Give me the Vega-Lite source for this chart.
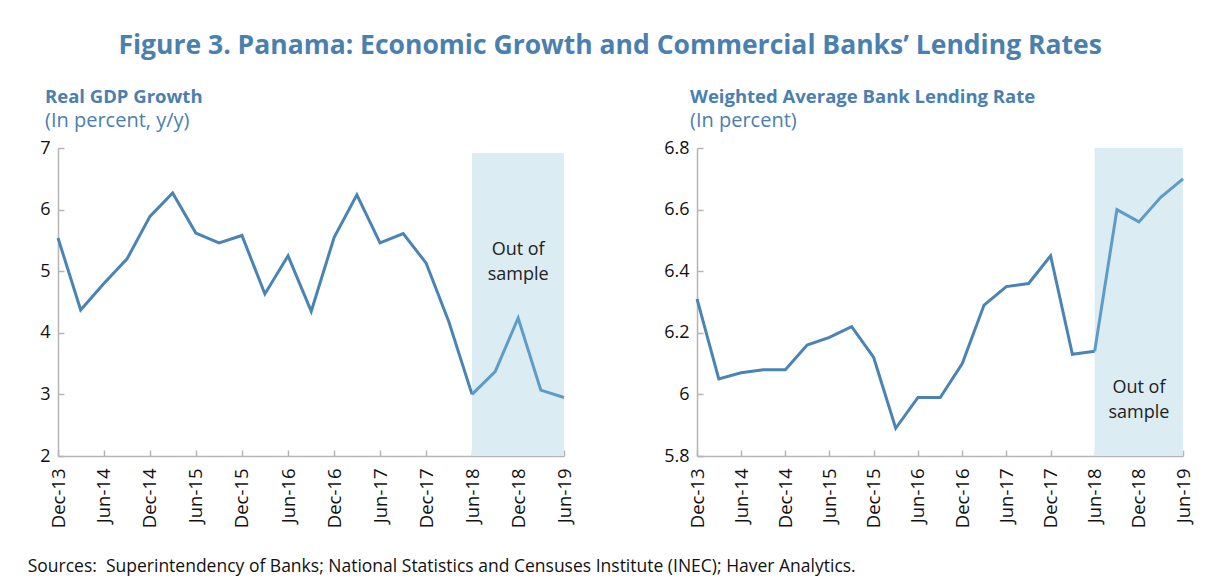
{
  "$schema": "https://vega.github.io/schema/vega-lite/v6.json",
  "background": "white",
  "padding": {"left": 27, "top": 33, "right": 8, "bottom": 4},
  "title": {
    "text": "Figure 3. Panama: Economic Growth and Commercial Banks’ Lending Rates",
    "anchor": "middle",
    "font": "Open Sans",
    "fontSize": 26.5,
    "fontWeight": "bold",
    "color": "#4a80b0",
    "offset": 28
  },
  "config": {
    "font": "Open Sans",
    "view": {"stroke": null},
    "axis": {
      "grid": false,
      "title": null,
      "domainColor": "#b5b5b5",
      "domainWidth": 1.5,
      "tickColor": "#b5b5b5",
      "tickWidth": 1.5,
      "tickSize": -6,
      "labelColor": "#111111",
      "labelFont": "Open Sans"
    }
  },
  "datasets": {
    "series": [
      {"date": "2013-12-15", "gdp": 5.54, "rate": 6.31},
      {"date": "2014-03-15", "gdp": 4.37, "rate": 6.05},
      {"date": "2014-06-15", "gdp": 4.80, "rate": 6.07},
      {"date": "2014-09-15", "gdp": 5.20, "rate": 6.08},
      {"date": "2014-12-15", "gdp": 5.89, "rate": 6.08},
      {"date": "2015-03-15", "gdp": 6.27, "rate": 6.16},
      {"date": "2015-06-15", "gdp": 5.62, "rate": 6.185},
      {"date": "2015-09-15", "gdp": 5.46, "rate": 6.22},
      {"date": "2015-12-15", "gdp": 5.58, "rate": 6.12},
      {"date": "2016-03-15", "gdp": 4.63, "rate": 5.89},
      {"date": "2016-06-15", "gdp": 5.25, "rate": 5.99},
      {"date": "2016-09-15", "gdp": 4.35, "rate": 5.99},
      {"date": "2016-12-15", "gdp": 5.55, "rate": 6.10},
      {"date": "2017-03-15", "gdp": 6.24, "rate": 6.29},
      {"date": "2017-06-15", "gdp": 5.46, "rate": 6.35},
      {"date": "2017-09-15", "gdp": 5.61, "rate": 6.36},
      {"date": "2017-12-15", "gdp": 5.13, "rate": 6.45},
      {"date": "2018-03-15", "gdp": 4.18, "rate": 6.13},
      {"date": "2018-06-15", "gdp": 3.00, "rate": 6.14},
      {"date": "2018-09-15", "gdp": 3.37, "rate": 6.60},
      {"date": "2018-12-15", "gdp": 4.24, "rate": 6.56},
      {"date": "2019-03-15", "gdp": 3.07, "rate": 6.64},
      {"date": "2019-06-15", "gdp": 2.95, "rate": 6.70}
    ],
    "shadeGdp": [{"start": "2018-06-15", "end": "2019-06-15", "lo": 2, "hi": 6.92}],
    "shadeRate": [{"start": "2018-06-15", "end": "2019-06-15", "lo": 5.8, "hi": 6.8}],
    "noteGdp": [{"date": "2018-12-15", "v": 5.35, "label": "Out of\nsample"}],
    "noteRate": [{"date": "2018-12-15", "v": 6.02, "label": "Out of\nsample"}]
  },
  "vconcat": [
    {
      "title": {
        "text": "Sources:\u00a0 Superintendency of Banks; National Statistics and Censuses Institute (INEC); Haver Analytics.",
        "orient": "bottom",
        "anchor": "start",
        "frame": "bounds",
        "dx": -12,
        "font": "Open Sans",
        "fontSize": 17.5,
        "fontWeight": "normal",
        "color": "#111111",
        "offset": 30
      },
      "hconcat": [
        {
          "width": 506,
          "height": 308,
          "title": {
            "text": "Real GDP Growth",
            "subtitle": "(In percent, y/y)",
            "anchor": "start",
            "frame": "group",
            "dx": -13,
            "font": "Open Sans",
            "fontSize": 18.5,
            "fontWeight": "bold",
            "color": "#4a80b0",
            "subtitleFont": "Open Sans",
            "subtitleFontSize": 20,
            "subtitleColor": "#4a80b0",
            "subtitlePadding": 5,
            "offset": 8
          },
          "layer": [
            {
              "data": {"name": "shadeGdp"},
              "mark": {"type": "rect", "color": "#dbecf3"},
              "encoding": {
                "x": {"field": "start", "type": "temporal",
                  "scale": {"domain": [{"year": 2013, "month": 12, "date": 15}, {"year": 2019, "month": 6, "date": 15}]},
                  "axis": {"values": [
                    {"year": 2013, "month": 12, "date": 15}, {"year": 2014, "month": 6, "date": 15},
                    {"year": 2014, "month": 12, "date": 15}, {"year": 2015, "month": 6, "date": 15},
                    {"year": 2015, "month": 12, "date": 15}, {"year": 2016, "month": 6, "date": 15},
                    {"year": 2016, "month": 12, "date": 15}, {"year": 2017, "month": 6, "date": 15},
                    {"year": 2017, "month": 12, "date": 15}, {"year": 2018, "month": 6, "date": 15},
                    {"year": 2018, "month": 12, "date": 15}, {"year": 2019, "month": 6, "date": 15}],
                    "format": "%b-%y", "labelAngle": -90, "labelFontSize": 18.5, "labelPadding": 18, "labelAlign": "right", "labelBaseline": "middle"}},
                "x2": {"field": "end"},
                "y": {"field": "lo", "type": "quantitative",
                  "scale": {"domain": [2, 7], "nice": false, "zero": false},
                  "axis": {"values": [2, 3, 4, 5, 6, 7], "format": "d", "labelFontSize": 18, "labelPadding": 14}},
                "y2": {"field": "hi"}
              }
            },
            {
              "data": {"name": "series"},
              "transform": [{"filter": {"field": "date", "lte": {"year": 2018, "month": 6, "date": 16}}}],
              "mark": {"type": "line", "color": "#4a84b5", "strokeWidth": 3},
              "encoding": {
                "x": {"field": "date", "type": "temporal"},
                "y": {"field": "gdp", "type": "quantitative"}
              }
            },
            {
              "data": {"name": "series"},
              "transform": [{"filter": {"field": "date", "gte": {"year": 2018, "month": 6, "date": 14}}}],
              "mark": {"type": "line", "color": "#5e9cc8", "strokeWidth": 3},
              "encoding": {
                "x": {"field": "date", "type": "temporal"},
                "y": {"field": "gdp", "type": "quantitative"}
              }
            },
            {
              "data": {"name": "noteGdp"},
              "mark": {"type": "text", "fontSize": 18, "color": "#222222", "align": "center", "baseline": "middle", "lineBreak": "\n", "lineHeight": 25},
              "encoding": {
                "x": {"field": "date", "type": "temporal"},
                "y": {"field": "v", "type": "quantitative"},
                "text": {"field": "label"}
              }
            }
          ]
        },
        {
          "width": 486,
          "height": 308,
          "title": {
            "text": "Weighted Average Bank Lending Rate",
            "subtitle": "(In percent)",
            "anchor": "start",
            "frame": "group",
            "dx": -7,
            "font": "Open Sans",
            "fontSize": 18.5,
            "fontWeight": "bold",
            "color": "#4a80b0",
            "subtitleFont": "Open Sans",
            "subtitleFontSize": 20,
            "subtitleColor": "#4a80b0",
            "subtitlePadding": 5,
            "offset": 8
          },
          "layer": [
            {
              "data": {"name": "shadeRate"},
              "mark": {"type": "rect", "color": "#dbecf3"},
              "encoding": {
                "x": {"field": "start", "type": "temporal",
                  "scale": {"domain": [{"year": 2013, "month": 12, "date": 15}, {"year": 2019, "month": 6, "date": 15}]},
                  "axis": {"values": [
                    {"year": 2013, "month": 12, "date": 15}, {"year": 2014, "month": 6, "date": 15},
                    {"year": 2014, "month": 12, "date": 15}, {"year": 2015, "month": 6, "date": 15},
                    {"year": 2015, "month": 12, "date": 15}, {"year": 2016, "month": 6, "date": 15},
                    {"year": 2016, "month": 12, "date": 15}, {"year": 2017, "month": 6, "date": 15},
                    {"year": 2017, "month": 12, "date": 15}, {"year": 2018, "month": 6, "date": 15},
                    {"year": 2018, "month": 12, "date": 15}, {"year": 2019, "month": 6, "date": 15}],
                    "format": "%b-%y", "labelAngle": -90, "labelFontSize": 18.5, "labelPadding": 18, "labelAlign": "right", "labelBaseline": "middle"}},
                "x2": {"field": "end"},
                "y": {"field": "lo", "type": "quantitative",
                  "scale": {"domain": [5.8, 6.8], "nice": false, "zero": false},
                  "axis": {"values": [5.8, 6.0, 6.2, 6.4, 6.6, 6.8], "format": ".1~f", "labelFontSize": 18, "labelPadding": 14}},
                "y2": {"field": "hi"}
              }
            },
            {
              "data": {"name": "series"},
              "transform": [{"filter": {"field": "date", "lte": {"year": 2018, "month": 6, "date": 16}}}],
              "mark": {"type": "line", "color": "#4a84b5", "strokeWidth": 3},
              "encoding": {
                "x": {"field": "date", "type": "temporal"},
                "y": {"field": "rate", "type": "quantitative"}
              }
            },
            {
              "data": {"name": "series"},
              "transform": [{"filter": {"field": "date", "gte": {"year": 2018, "month": 6, "date": 14}}}],
              "mark": {"type": "line", "color": "#5e9cc8", "strokeWidth": 3},
              "encoding": {
                "x": {"field": "date", "type": "temporal"},
                "y": {"field": "rate", "type": "quantitative"}
              }
            },
            {
              "data": {"name": "noteRate"},
              "mark": {"type": "text", "fontSize": 18, "color": "#222222", "align": "center", "baseline": "middle", "lineBreak": "\n", "lineHeight": 25},
              "encoding": {
                "x": {"field": "date", "type": "temporal"},
                "y": {"field": "v", "type": "quantitative"},
                "text": {"field": "label"}
              }
            }
          ]
        }
      ],
      "spacing": 89
    }
  ]
}
